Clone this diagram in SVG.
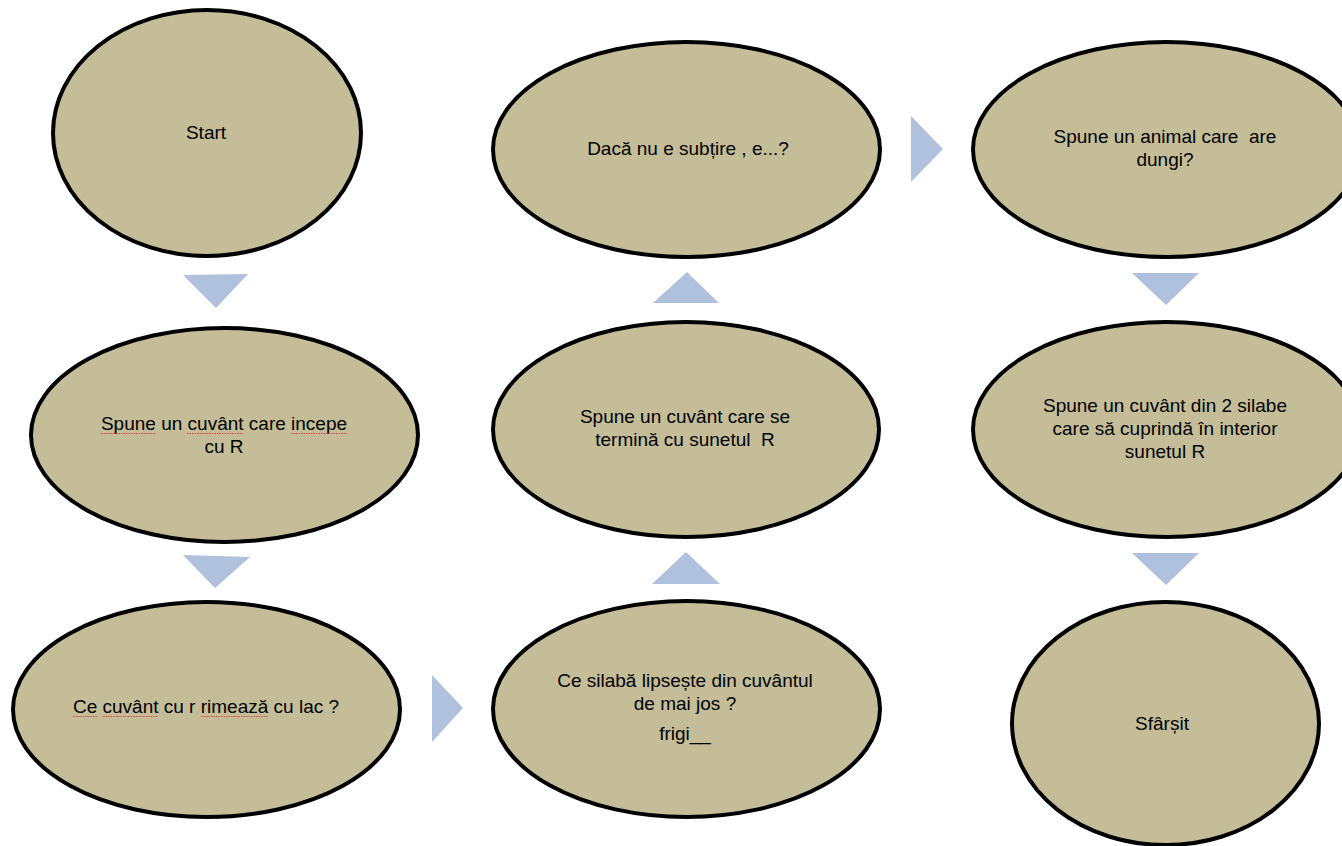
<svg xmlns="http://www.w3.org/2000/svg" width="1342" height="846" viewBox="0 0 1342 846">
<style>
.node ellipse{fill:#c4bd97;stroke:#000;stroke-width:4}
.node text{font-family:"Liberation Sans",Arial,sans-serif;font-size:19px;fill:#000;text-anchor:middle}
.arrow{fill:#b0c1dd;stroke:none}
.sp{stroke:#e04848;stroke-width:1.2;stroke-dasharray:1.5 1;fill:none}
</style>
<rect width="1342" height="846" fill="#fff"/>
<g id="connectors">
<polygon class="arrow" points="183,275 248,274 216,308"/>
<polygon class="arrow" points="183,555 250,557 215,588"/>
<polygon class="arrow" points="432,675 432,742 463,708"/>
<polygon class="arrow" points="653,303 719,303 687,272"/>
<polygon class="arrow" points="652,584 720,584 686,552"/>
<polygon class="arrow" points="911,116 911,182 943,149"/>
<polygon class="arrow" points="1132,273 1199,273 1166,305"/>
<polygon class="arrow" points="1132,553 1199,553 1166,585"/>
</g>
<g id="n1" class="node">
<ellipse cx="207" cy="133" rx="154" ry="123"/>
<text x="206" y="139">Start</text>
</g>
<g id="n2" class="node">
<ellipse cx="224.5" cy="435" rx="193.5" ry="107"/>
<text x="224" y="430">Spune un cuvânt care incepe</text>
<text x="224" y="453">cu R</text>
<path class="sp" d="M101,433.5H155M187,433.5H243M291,433.5H347"/>
</g>
<g id="n3" class="node">
<ellipse cx="206.5" cy="709.5" rx="193.5" ry="107.5"/>
<text x="206" y="713">Ce cuvânt cu r rimează cu lac ?</text>
<path class="sp" d="M73,716.5H97M103,716.5H158M201,716.5H268"/>
</g>
<g id="n4" class="node">
<ellipse cx="686.5" cy="149.5" rx="193.5" ry="107.5"/>
<text x="688" y="155">Dacă nu e subțire , e...?</text>
</g>
<g id="n5" class="node">
<ellipse cx="686" cy="429.5" rx="193" ry="107.5"/>
<text x="685" y="423">Spune un cuvânt care se</text>
<text x="685" y="446" xml:space="preserve">termină cu sunetul  R</text>
</g>
<g id="n6" class="node">
<ellipse cx="686.5" cy="709" rx="193.5" ry="108"/>
<text x="685" y="687">Ce silabă lipsește din cuvântul</text>
<text x="685" y="710">de mai jos ?</text>
<text x="685" y="740">frigi__</text>
</g>
<g id="n7" class="node">
<ellipse cx="1166.5" cy="149.5" rx="193.5" ry="107.5"/>
<text x="1165" y="143" xml:space="preserve">Spune un animal care  are</text>
<text x="1165" y="166">dungi?</text>
</g>
<g id="n8" class="node">
<ellipse cx="1166.5" cy="429.5" rx="193.5" ry="107.5"/>
<text x="1165" y="412">Spune un cuvânt din 2 silabe</text>
<text x="1165" y="435">care să cuprindă în interior</text>
<text x="1165" y="458">sunetul R</text>
</g>
<g id="n9" class="node">
<ellipse cx="1165.5" cy="723.5" rx="153.5" ry="121.5"/>
<text x="1162" y="730">Sfârșit</text>
</g>
</svg>
